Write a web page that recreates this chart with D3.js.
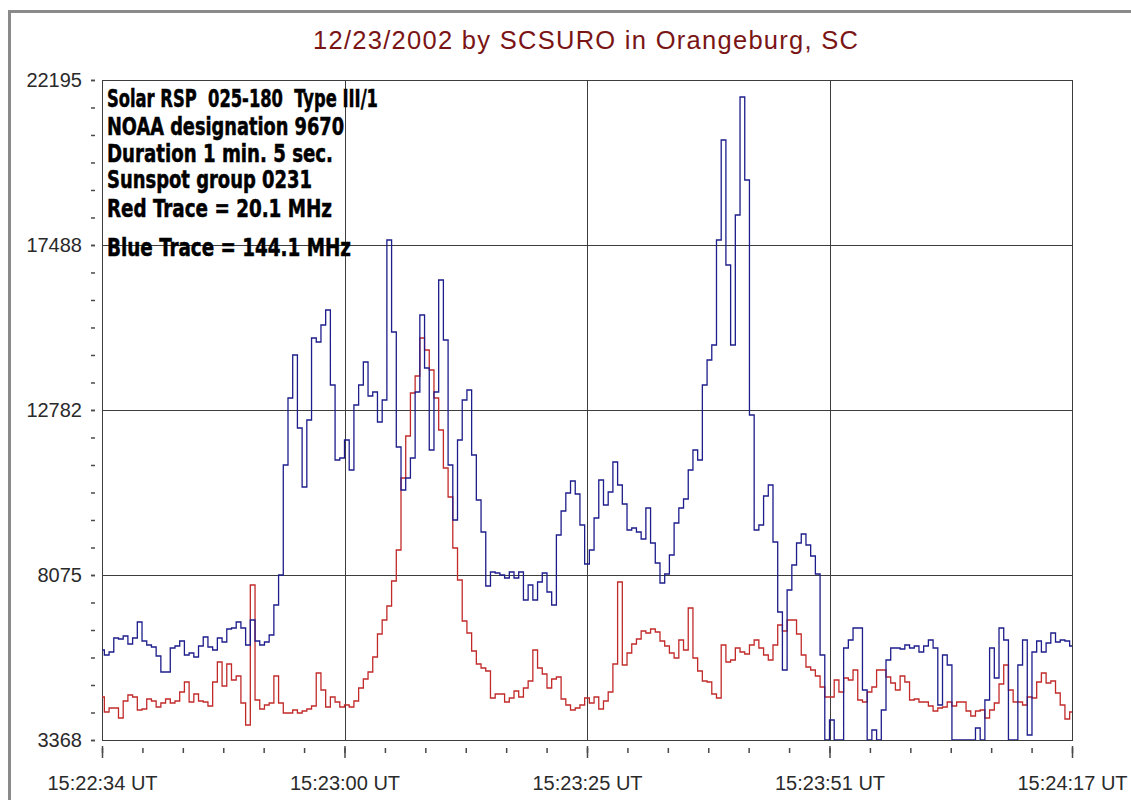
<!DOCTYPE html>
<html>
<head>
<meta charset="utf-8">
<script src="https://cdn.jsdelivr.net/npm/d3@7"></script>
<style>
  body { margin: 0; background: #ffffff; }
  svg { display: block; }
</style>
</head>
<body>
<svg id="chart" width="1131" height="800"></svg>
<script>
// ---- Data -------------------------------------------------------------
const chartTitle = "12/23/2002 by SCSURO in Orangeburg, SC";

const notes = [
  "Solar RSP  025-180  Type III/1",
  "NOAA designation 9670",
  "Duration 1 min. 5 sec.",
  "Sunspot group 0231",
  "Red Trace = 20.1 MHz",
  "Blue Trace = 144.1 MHz"
];

// Receiver counts shown on the left axis
const yTickValues = [3368, 8075, 12782, 17488, 22195];

// Seconds after 15:22:34 UT and their printed labels
const xTickSeconds = [0, 25.75, 51.5, 77.25, 103];
const xTickLabels = ["15:22:34 UT", "15:23:00 UT", "15:23:25 UT", "15:23:51 UT", "15:24:17 UT"];

// One sample every half second, starting at 15:22:34 UT
const sampleInterval = 0.5;

// 144.1 MHz receiver (blue trace)
const blueTrace = [
  5935, 5793, 5878, 6278, 6249, 6335, 6106, 6278, 6734, 6192,
  6078, 6021, 5764, 5308, 5308, 5992, 6049, 6192, 5793, 5850,
  5736, 6049, 6306, 6021, 5935, 6278, 6164, 6534, 6563, 6734,
  6563, 6078, 6791, 6192, 6078, 6164, 6363, 7219, 8075, 11213,
  13124, 14351, 12268, 10585, 12496, 14835, 14721, 15206, 15634, 13495,
  11355, 11412, 11926, 11070, 12924, 13495, 14151, 13181, 13295, 12439,
  13067, 17631, 15007, 11726, 10500, 10842, 11412, 13295, 15492, 13980,
  11641, 13295, 16490, 14778, 11213, 9644, 11926, 13067, 13352, 11498,
  10214, 9301, 7761, 8160, 8132, 8075, 7989, 8160, 7989, 8160,
  7362, 7790, 7362, 7875, 8132, 7590, 7219, 9216, 9900, 10414,
  10756, 10385, 9501, 8389, 8788, 9701, 10785, 10072, 10442, 11298,
  10642, 10100, 9358, 9416, 9301, 9102, 9986, 8988, 8417, 7847,
  8103, 8645, 9558, 9986, 10243, 11070, 11641, 11355, 13495, 14208,
  14636, 17631, 20484, 16918, 14636, 18344, 21710, 19343, 12639, 9358,
  9501, 10328, 10642, 9016, 7019, 5365, 7647, 8360, 8988, 9244,
  8931, 8617, 8103, 5793, 3368, 3939, 3368, 3368, 5992, 6221,
  6563, 6563, 4794, 3368, 3653, 3368, 4224, 5650, 5992, 5992,
  5964, 6078, 5992, 6049, 5878, 6049, 6221, 5992, 4366, 5793,
  5507, 3368, 3368, 3368, 3368, 3368, 3710, 3368, 4509, 5992,
  5137, 6563, 6221, 3368, 3368, 5507, 6221, 3511, 5878, 6192,
  5878, 6135, 6420, 6164, 6221, 6192, 6049
];

// 20.1 MHz receiver (red trace)
const redTrace = [
  4595, 4167, 4281, 4281, 3996, 4481, 4652, 4595, 4224, 4252,
  4538, 4481, 4309, 4423, 4538, 4423, 4481, 4737, 5023, 4452,
  4680, 4481, 4452, 4338, 5023, 5593, 4908, 5536, 5080, 5194,
  4423, 3796, 7790, 4509, 4252, 4366, 4423, 5194, 4423, 4138,
  4138, 4224, 4138, 4195, 4252, 4338, 5279, 4794, 4309, 4595,
  4452, 4309, 4366, 4309, 4481, 4851, 5108, 5308, 5736, 6392,
  6791, 7190, 7904, 8788, 10842, 12040, 13267, 13751, 14835, 14493,
  13923, 13124, 12211, 11127, 10300, 8845, 7932, 6763, 6420, 5907,
  5536, 5422, 5336, 4566, 4680, 4680, 4452, 4566, 4766, 4595,
  4851, 5051, 5935, 5422, 5251, 4851, 5108, 5165, 4538, 4366,
  4224, 4281, 4366, 4566, 4423, 4595, 4252, 4481, 4737, 5536,
  7875, 5507, 5850, 6106, 6249, 6477, 6420, 6534, 6449, 6192,
  6049, 5850, 5707, 6221, 5935, 7133, 5707, 5336, 5051, 5023,
  4680, 4566, 6078, 5593, 5650, 5992, 5878, 5821, 6078, 6221,
  5992, 5793, 5650, 6078, 6648, 6477, 6791, 6791, 6392, 5793,
  5450, 5365, 5194, 4880, 4595, 4595, 5080, 4737, 5137, 5080,
  5365, 4509, 4452, 4737, 4880, 5365, 5365, 5165, 4994, 4794,
  5194, 5023, 4509, 4538, 4452, 4452, 4338, 4195, 4281, 4309,
  4452, 4338, 4452, 4452, 4195, 4053, 4195, 4224, 3996, 4224,
  4423, 4965, 5507, 4794, 4452, 4452, 4366, 4595, 4566, 5023,
  5279, 4994, 5051, 4709, 4366, 3967, 4167
];

// ---- Layout -----------------------------------------------------------
const plot = { left: 102, right: 1072, top: 80, bottom: 740 };
const gridColor = "#3d3d3d";
const sans = "'Liberation Sans', Arial, Helvetica, sans-serif";
const narrowBold = "'Liberation Sans Narrow', 'Arial Narrow', 'DejaVu Sans Condensed', 'Liberation Sans', sans-serif";

const svg = d3.select("#chart");

const x = d3.scaleLinear()
  .domain([xTickSeconds[0], xTickSeconds[xTickSeconds.length - 1]])
  .range([plot.left, plot.right]);
const y = d3.scaleLinear()
  .domain([yTickValues[0], yTickValues[yTickValues.length - 1]])
  .range([plot.bottom, plot.top]);

// window frame
svg.append("rect")
  .attr("x", 9.5).attr("y", 11.5)
  .attr("width", 1400).attr("height", 1000)
  .attr("fill", "none")
  .attr("stroke", "#8a8a8a")
  .attr("stroke-width", 3);

// title
svg.append("text")
  .attr("x", (plot.left + plot.right) / 2 - 1.5)
  .attr("y", 49)
  .attr("text-anchor", "middle")
  .attr("font-family", sans)
  .attr("font-size", 25.5)
  .attr("fill", "#7a1515")
  .attr("textLength", 545)
  .attr("lengthAdjust", "spacing")
  .text(chartTitle);

// grid lines
const grid = svg.append("g")
  .attr("stroke", gridColor)
  .attr("stroke-width", 1.4)
  .attr("shape-rendering", "crispEdges");
grid.selectAll("line.h")
  .data(yTickValues.slice(1, -1))
  .join("line")
  .attr("class", "h")
  .attr("x1", plot.left).attr("x2", plot.right)
  .attr("y1", d => Math.round(y(d)) + 0.5).attr("y2", d => Math.round(y(d)) + 0.5);
grid.selectAll("line.v")
  .data(xTickSeconds.slice(1, -1))
  .join("line")
  .attr("class", "v")
  .attr("y1", plot.top).attr("y2", plot.bottom)
  .attr("x1", d => Math.round(x(d)) + 0.5).attr("x2", d => Math.round(x(d)) + 0.5);

// plot border
svg.append("rect")
  .attr("x", plot.left + 0.5).attr("y", plot.top + 0.5)
  .attr("width", plot.right - plot.left).attr("height", plot.bottom - plot.top)
  .attr("fill", "none")
  .attr("stroke", gridColor)
  .attr("stroke-width", 1.5)
  .attr("shape-rendering", "crispEdges");

// ---- Axes -------------------------------------------------------------
const ySpan = yTickValues[1] - yTickValues[0];
const yMinor = d3.range(0, 25).map(i => yTickValues[0] + i * ySpan / 6);
const xSpan = xTickSeconds[1] - xTickSeconds[0];
const xMinor = d3.range(0, 25).map(i => i * xSpan / 6);

function styleAxis(g) {
  g.select(".domain").remove();
  g.selectAll(".tick line").attr("stroke", "#4a4a4a").attr("stroke-width", 1.5);
  g.selectAll(".tick text")
    .attr("font-family", sans)
    .attr("font-size", 20)
    .attr("fill", "#2a2a2a");
}

// y dashes (every sixth of a division) and labels
svg.append("g")
  .attr("transform", "translate(95,0)")
  .call(d3.axisLeft(y).tickValues(yMinor).tickSize(4).tickFormat(""))
  .call(styleAxis);
svg.append("g")
  .attr("transform", "translate(95,0)")
  .call(d3.axisLeft(y).tickValues(yTickValues).tickSize(4).tickPadding(9).tickFormat(d3.format("d")))
  .call(styleAxis);

// time ticks and labels
svg.append("g")
  .attr("transform", `translate(0,${plot.bottom + 8})`)
  .call(d3.axisBottom(x).tickValues(xMinor).tickSize(5).tickFormat(""))
  .call(styleAxis);
svg.append("g")
  .attr("transform", `translate(0,${plot.bottom + 6})`)
  .call(d3.axisBottom(x).tickValues(xTickSeconds).tickSize(12).tickPadding(18)
    .tickFormat((d, i) => xTickLabels[i]))
  .call(styleAxis);

// ---- Traces -----------------------------------------------------------
svg.append("clipPath").attr("id", "plot-clip")
  .append("rect")
  .attr("x", plot.left).attr("y", plot.top)
  .attr("width", plot.right - plot.left).attr("height", plot.bottom - plot.top);

// sample-and-hold look of the receiver log
const trace = d3.line()
  .curve(d3.curveStep)
  .x((d, i) => x(i * sampleInterval))
  .y(d => y(d));

const traces = svg.append("g").attr("clip-path", "url(#plot-clip)");
traces.append("path")
  .datum(redTrace)
  .attr("d", trace)
  .attr("fill", "none")
  .attr("stroke", "#c22a2a")
  .attr("stroke-width", 1.3);
traces.append("path")
  .datum(blueTrace)
  .attr("d", trace)
  .attr("fill", "none")
  .attr("stroke", "#1d1d8c")
  .attr("stroke-width", 1.3);

// ---- Event notes ------------------------------------------------------
const noteBaselines = [106.5, 134.5, 161.5, 188, 216.5, 256];
const noteWidths = [271, 237, 226, 205, 225, 244];
svg.append("g")
  .selectAll("text")
  .data(notes)
  .join("text")
  .attr("x", 107)
  .attr("y", (d, i) => noteBaselines[i])
  .attr("font-family", narrowBold)
  .attr("font-weight", "bold")
  .attr("font-size", 25)
  .attr("fill", "#000")
  .attr("stroke", "#000")
  .attr("stroke-width", 0.5)
  .attr("textLength", (d, i) => noteWidths[i])
  .attr("lengthAdjust", "spacingAndGlyphs")
  .style("white-space", "pre")
  .text(d => d);
</script>
</body>
</html>
